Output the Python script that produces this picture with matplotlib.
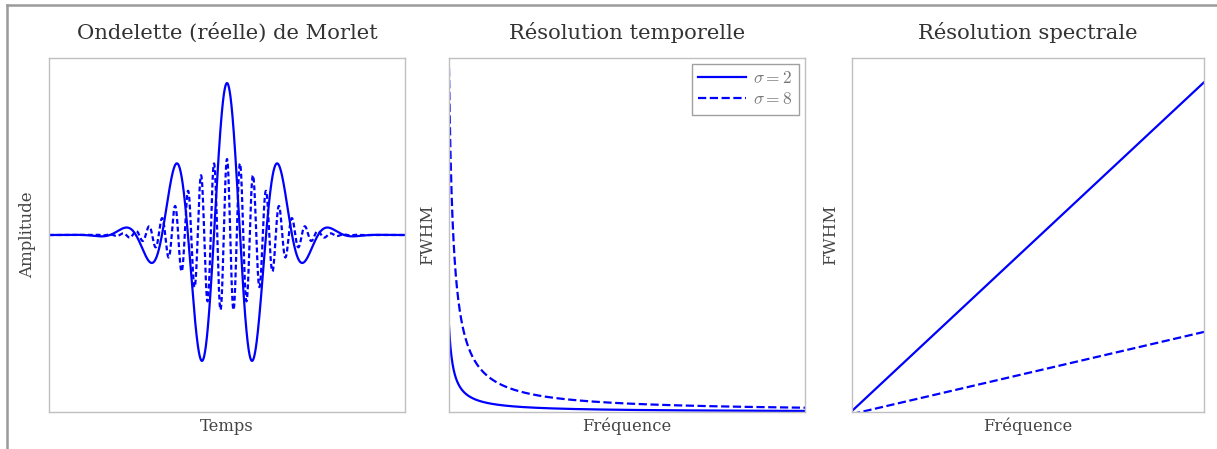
import numpy as np
import matplotlib
matplotlib.use("Agg")
import matplotlib.pyplot as plt
from matplotlib.lines import Line2D

# parameters
sigmas = [2, 8]                 # legend values
styles = ["-", "--"]
wave_styles = ["-", (0, (2.2, 1.3))]
wave_freqs = [1.0, 4.0]         # relative carrier frequency (left panel)
wave_amps = [1.0, 0.5]          # peak amplitude
envelopes = [0.8, 0.72]         # gaussian width, in periods of the slow wave
t_range = 3.42                  # half-width of time axis, in periods
f_min, f_max = 1.0, 80.0        # frequency axis

titles = ["Ondelette (réelle) de Morlet", "Résolution temporelle", "Résolution spectrale"]
xlabels = ["Temps", "Fréquence", "Fréquence"]
ylabels = ["Amplitude", "FWHM", "FWHM"]

plt.rcParams["font.family"] = ["DejaVu Serif"]
plt.rcParams["mathtext.fontset"] = "cm"

fig = plt.figure(figsize=(12.17, 4.49), dpi=100)
H = 449.0
W = 1217.0
boxes = [(49, 405), (449, 805), (852, 1204)]
axes = []
for x0, x1 in boxes:
    ax = fig.add_axes([x0 / W, (H - 412) / H, (x1 - x0) / W, (412 - 58) / H])
    axes.append(ax)

blue = "#0000ff"

# left: real Morlet wavelets
t = np.linspace(-t_range, t_range, 3000)
ax = axes[0]
for f, a, e, ls in zip(wave_freqs, wave_amps, envelopes, wave_styles):
    y = a * np.cos(2 * np.pi * f * t) * np.exp(-t ** 2 / (2 * e ** 2))
    ax.plot(t, y, color=blue, linestyle=ls, lw=1.6)
ax.set_xlim(-t_range, t_range)
ax.set_ylim(-1.165, 1.165)

# middle: temporal FWHM ~ sigma / f
freqs = np.linspace(f_min, f_max, 1000)
ax = axes[1]
k = 2 * np.sqrt(2 * np.log(2))
for s, ls in zip(sigmas, styles):
    ax.plot(freqs, k * s / (2 * np.pi * freqs), color=blue, linestyle=ls, lw=1.6,
            label=r"$\sigma = %d$" % s)
top = k * max(sigmas) / (2 * np.pi * f_min)
ax.set_xlim(f_min, f_max)
ax.set_ylim(0, top * 1.03)
leg = ax.legend(loc="upper right", fontsize=12.5, fancybox=False, framealpha=1,
                handlelength=2.8, borderaxespad=0.35, labelspacing=0.25,
                handletextpad=0.4, borderpad=0.35)
leg.get_frame().set_edgecolor("#a0a0a0")
for txt in leg.get_texts():
    txt.set_color("#777777")

# right: spectral FWHM ~ f / sigma
ax = axes[2]
for s, ls in zip(sigmas, styles):
    ax.plot(freqs, k * freqs / s, color=blue, linestyle=ls, lw=1.6)
ax.set_xlim(f_min, f_max)
ax.set_ylim(k * f_min / min(sigmas) * 0.75, k * f_max / min(sigmas) * 1.073)

for ax, ti, xl, yl in zip(axes, titles, xlabels, ylabels):
    ax.set_title(ti, fontsize=15.2, pad=14, color="#333333")
    ax.set_xlabel(xl, fontsize=11.8, labelpad=4, color="#444444")
    ax.set_ylabel(yl, fontsize=12, labelpad=9, color="#444444")
    ax.set_xticks([])
    ax.set_yticks([])
    for sp in ax.spines.values():
        sp.set_color("#c0c0c0")
        sp.set_linewidth(1.0)

# screenshot frame
fig.add_artist(Line2D([7 / W, 7 / W], [0, 1 - 5 / H], transform=fig.transFigure,
                      color="#9a9a9a", lw=1.8))
fig.add_artist(Line2D([7 / W, 1], [1 - 5 / H, 1 - 5 / H], transform=fig.transFigure,
                      color="#9a9a9a", lw=1.8))

fig.savefig("out.png", dpi=100)
